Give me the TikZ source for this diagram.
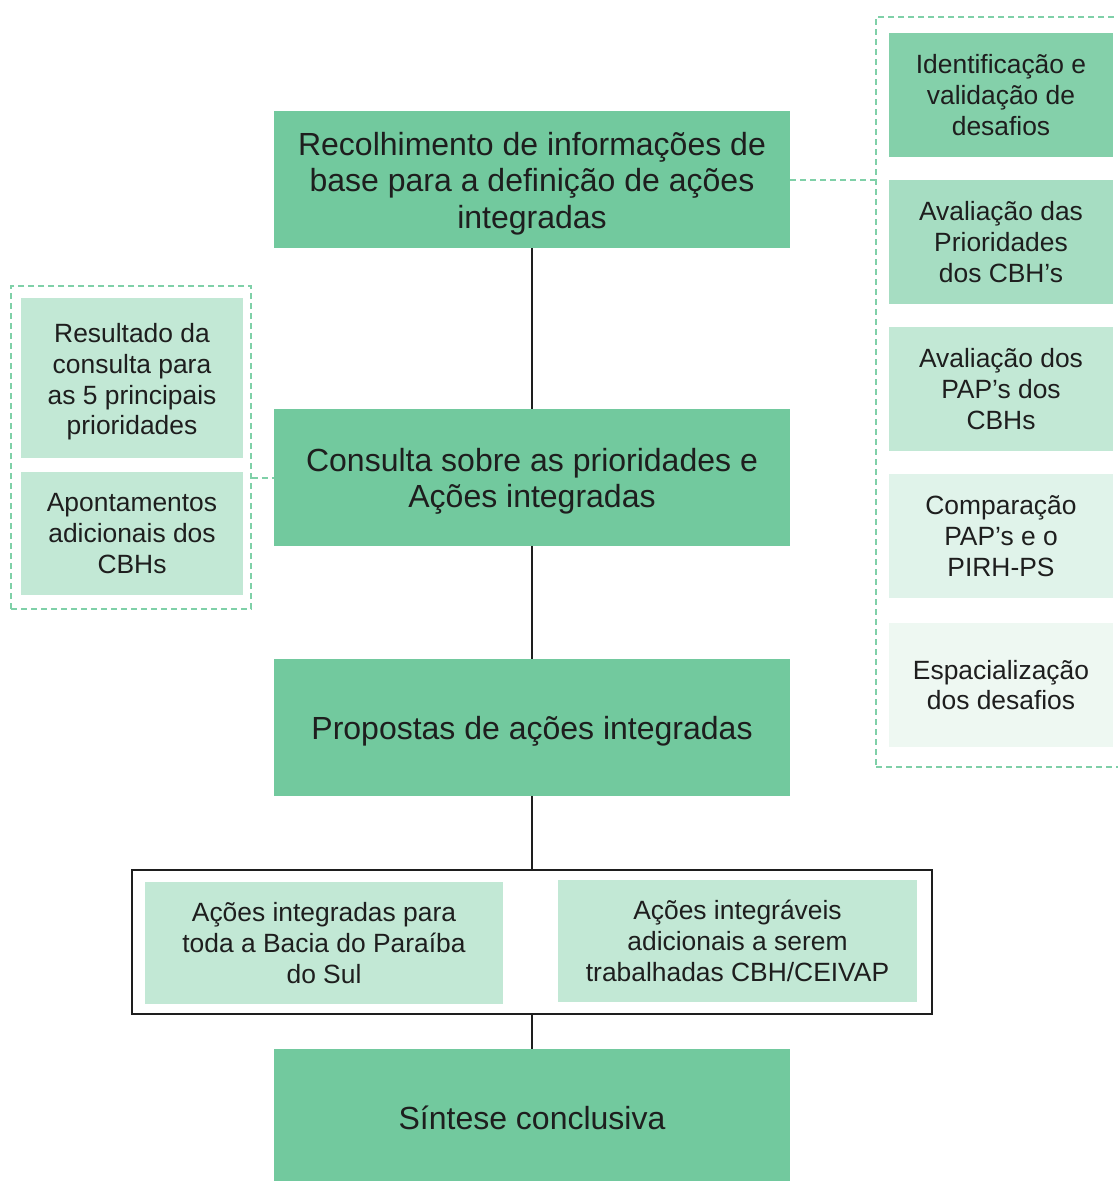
\documentclass[tikz,border=0pt]{standalone}
\usepackage{fontspec}
\setmainfont{Liberation Sans}
\definecolor{mainc}{HTML}{72C99E}
\definecolor{rone}{HTML}{84D0AA}
\definecolor{rtwo}{HTML}{A6DDC2}
\definecolor{lite}{HTML}{C2E8D5}
\definecolor{rfour}{HTML}{E0F3EA}
\definecolor{rfive}{HTML}{EEF8F2}
\definecolor{dashc}{HTML}{7FD0A8}
\definecolor{txt}{HTML}{1E1E1E}
\newcommand{\topstrut}[1]{\rule{0pt}{#1}}
\begin{document}
\begin{tikzpicture}[x=1pt,y=-1pt,
  mainbox/.style={fill=mainc, minimum width=516pt, minimum height=137pt, inner sep=0pt, align=center, text=txt, font=\fontsize{32}{36.5}\selectfont},
  sbox/.style={fill=#1, inner sep=0pt, align=center, text=txt, font=\fontsize{26.4}{30.8}\selectfont},
  rbox/.style={sbox=#1, minimum width=224pt, minimum height=124pt},
  groupbox/.style={draw=dashc, line width=1.8pt, dash pattern=on 6pt off 4pt, inner sep=0pt},
  dashlink/.style={draw=dashc, line width=2pt, dash pattern=on 6pt off 4pt},
  link/.style={draw=txt, line width=1.6pt}
]
\useasboundingbox (0,0) rectangle (1118,1181);
\fill[white] (0,0) rectangle (1118,1181);

% groups
\node[groupbox, minimum width=249pt, minimum height=750pt] (rgroup) at (1000.5,392) {};
\node[groupbox, minimum width=240pt, minimum height=323pt] (lgroup) at (131,447.5) {};

% main boxes
\node[mainbox] (b1) at (532,179.5) {\topstrut{31pt}Recolhimento de informações de\\base para a definição de ações\\integradas};
\node[mainbox] (b2) at (532,477.5) {\topstrut{31pt}Consulta sobre as prioridades e\\Ações integradas};
\node[mainbox] (b3) at (532,727.5) {\topstrut{31pt}Propostas de ações integradas};
\node[draw=txt, line width=1.6pt, minimum width=800pt, minimum height=144pt, inner sep=0pt] (outer) at (532,942) {};
\node[sbox=lite, minimum width=358pt, minimum height=122pt] (i1) at (324,943) {Ações integradas para\\toda a Bacia do Paraíba\\do Sul};
\node[sbox=lite, minimum width=359pt, minimum height=122pt] (i2) at (737.5,941) {Ações integráveis\\adicionais a serem\\trabalhadas CBH/CEIVAP};
\node[mainbox] (b5) at (532,1117.5) {Síntese conclusiva};

% right boxes
\node[rbox=rone] (r1) at (1001,95) {Identificação e\\validação de\\desafios};
\node[rbox=rtwo] (r2) at (1001,242) {Avaliação das\\Prioridades\\dos CBH’s};
\node[rbox=lite] (r3) at (1001,389) {Avaliação dos\\PAP’s dos\\CBHs};
\node[rbox=rfour] (r4) at (1001,536) {Comparação\\PAP’s e o\\PIRH-PS};
\node[rbox=rfive] (r5) at (1001,685) {Espacialização\\dos desafios};

% left boxes
\node[sbox=lite, minimum width=222pt, minimum height=160pt] (l1) at (132,378) {\topstrut{27pt}Resultado da\\consulta para\\as 5 principais\\prioridades};
\node[sbox=lite, minimum width=222pt, minimum height=123pt] (l2) at (132,533.5) {Apontamentos\\adicionais dos\\CBHs};

% connectors
\draw[link] (b1.south) -- (b2.north);
\draw[link] (b2.south) -- (b3.north);
\draw[link] (b3.south) -- (outer.north);
\draw[link] (outer.south) -- (b5.north);
\draw[dashlink] (b1.east) -- (b1.east -| rgroup.west);
\draw[dashlink] (lgroup.east |- b2.west) -- (b2.west);
\end{tikzpicture}
\end{document}
